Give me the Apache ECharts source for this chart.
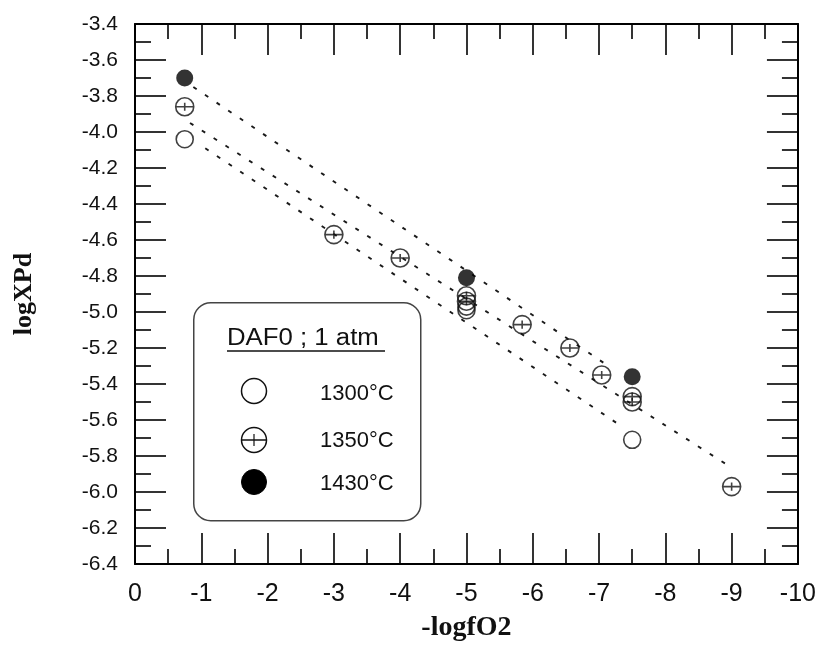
<!DOCTYPE html>
<html>
<head>
<meta charset="utf-8">
<script src="https://cdn.jsdelivr.net/npm/echarts@6/dist/echarts.min.js"></script>
<style>
html,body{margin:0;padding:0;background:#fff;}
#chart{width:819px;height:647px;}
</style>
</head>
<body>
<div id="chart"></div>
<script>
// ---- data ----
const x1300 = [-0.75, -5.0, -5.0, -7.5];
const y1300 = [-4.04, -4.97, -4.99, -5.71];
const x1350 = [-0.75, -3.0, -4.0, -5.0, -5.0, -5.84, -6.56, -7.04, -7.5, -7.5, -9.0];
const y1350 = [-3.86, -4.57, -4.70, -4.91, -4.94, -5.07, -5.20, -5.35, -5.47, -5.50, -5.97];
const x1430 = [-0.75, -5.0, -7.5];
const y1430 = [-3.70, -4.81, -5.36];
// dotted fit lines (endpoints)
const fit1300X = [-1.06, -7.32];
const fit1300Y = [-4.09, -5.63];
const fit1350X = [-0.83, -8.98];
const fit1350Y = [-3.95, -5.86];
const fit1430X = [-0.88, -7.14];
const fit1430Y = [-3.75, -5.30];
const legendTitle = 'DAF0 ; 1 atm';
const seriesNames = ['1300°C', '1350°C', '1430°C'];
const xName = '-logfO2';
const yName = 'logXPd';

const zip = (a, b) => a.map((v, i) => [v, b[i]]);
const CROSS = 'path://M0,10A10,10 0 1 1 20,10A10,10 0 1 1 0,10ZM0,10L20,10M10,5.5L10,14.5';
const SANS = "'Liberation Sans', Arial, sans-serif";
const SERIF = "'Liberation Serif', 'Times New Roman', serif";

const axisLineStyle = {color: '#000', width: 2};
const tickStyle = {color: '#000', width: 1.6};

function xAxisDef(pos, labels) {
  return {
    type: 'value', position: pos, min: -10, max: 0, interval: 1, inverse: true,
    axisLine: {show: true, onZero: false, lineStyle: axisLineStyle},
    axisTick: {show: true, inside: true, length: 31, lineStyle: tickStyle},
    minorTick: {show: true, splitNumber: 2, length: 15, lineStyle: tickStyle},
    splitLine: {show: false},
    axisLabel: labels ? {show: true, margin: 18, color: '#111', fontSize: 25, fontFamily: SANS,
      formatter: v => String(Math.round(v))} : {show: false},
    name: labels ? xName : '', nameLocation: 'middle', nameGap: 50,
    nameTextStyle: {fontFamily: SERIF, fontSize: 28, color: '#111', fontWeight: 'bold'}
  };
}
function yAxisDef(pos, labels) {
  return {
    type: 'value', position: pos, min: -6.4, max: -3.4, interval: 0.2,
    axisLine: {show: true, onZero: false, lineStyle: axisLineStyle},
    axisTick: {show: true, inside: true, length: 31, lineStyle: tickStyle},
    minorTick: {show: true, splitNumber: 2, length: 16, lineStyle: tickStyle},
    splitLine: {show: false},
    axisLabel: labels ? {show: true, margin: 17, color: '#111', fontSize: 21, fontFamily: SANS,
      formatter: v => v.toFixed(1)} : {show: false},
    name: labels ? yName : '', nameLocation: 'middle', nameGap: 98, nameRotate: 90,
    nameTextStyle: {fontFamily: SERIF, fontSize: 26, color: '#111', fontWeight: 'bold'}
  };
}

const lineStyle = {color: '#1a1a1a', width: 1.9, type: [4, 10]};
function fit(name, xs, ys) {
  return {type: 'line', name: name, data: zip(xs, ys), symbol: 'none', silent: true,
    lineStyle: lineStyle, z: 1};
}

const chart = echarts.init(document.getElementById('chart'), null, {renderer: 'canvas'});
chart.setOption({
  backgroundColor: '#fff',
  animation: false,
  grid: {left: 135, right: 21, top: 24, bottom: 75},
  xAxis: [xAxisDef('bottom', true), xAxisDef('top', false)],
  yAxis: [yAxisDef('left', true), yAxisDef('right', false)],
  series: [
    fit('fit1300', fit1300X, fit1300Y),
    fit('fit1350', fit1350X, fit1350Y),
    fit('fit1430', fit1430X, fit1430Y),
    {type: 'scatter', name: seriesNames[0], data: zip(x1300, y1300), symbol: 'circle', symbolSize: 17,
      itemStyle: {color: 'rgba(0,0,0,0)', borderColor: '#111', borderWidth: 1.6}, z: 3},
    {type: 'scatter', name: seriesNames[1], data: zip(x1350, y1350), symbol: CROSS, symbolSize: 18,
      itemStyle: {color: 'rgba(0,0,0,0)', borderColor: '#111', borderWidth: 1.6}, z: 3},
    {type: 'scatter', name: seriesNames[2], data: zip(x1430, y1430), symbol: 'circle', symbolSize: 17,
      itemStyle: {color: '#000'}, z: 4}
  ],
  graphic: [
    {type: 'rect', left: 193, top: 302, z: 10,
      shape: {width: 227, height: 218, r: 17},
      style: {fill: '#fff', stroke: '#444', lineWidth: 1.5}},
    {type: 'text', x: 227, y: 327, scaleX: 1.12, z: 11,
      style: {text: legendTitle, font: "23px 'Liberation Sans', Arial, sans-serif", fill: '#111'}},
    {type: 'line', z: 11, shape: {x1: 227, y1: 351, x2: 385, y2: 351},
      style: {stroke: '#111', lineWidth: 1.5}},
    {type: 'circle', z: 11, shape: {cx: 254, cy: 391, r: 12.5},
      style: {fill: 'none', stroke: '#111', lineWidth: 1.5}},
    {type: 'circle', z: 11, shape: {cx: 254, cy: 440, r: 12.5},
      style: {fill: 'none', stroke: '#111', lineWidth: 1.5}},
    {type: 'line', z: 11, shape: {x1: 241.5, y1: 440, x2: 266.5, y2: 440},
      style: {stroke: '#111', lineWidth: 1.5}},
    {type: 'line', z: 11, shape: {x1: 254, y1: 434, x2: 254, y2: 446},
      style: {stroke: '#111', lineWidth: 1.2}},
    {type: 'circle', z: 11, shape: {cx: 254, cy: 482, r: 12.5},
      style: {fill: '#000', stroke: '#000', lineWidth: 1}},
    {type: 'text', left: 320, top: 383, z: 11,
      style: {text: seriesNames[0], font: "22px 'Liberation Sans', Arial, sans-serif", fill: '#111'}},
    {type: 'text', left: 320, top: 430, z: 11,
      style: {text: seriesNames[1], font: "22px 'Liberation Sans', Arial, sans-serif", fill: '#111'}},
    {type: 'text', left: 320, top: 473, z: 11,
      style: {text: seriesNames[2], font: "22px 'Liberation Sans', Arial, sans-serif", fill: '#111'}}
  ]
});
</script>
</body>
</html>
